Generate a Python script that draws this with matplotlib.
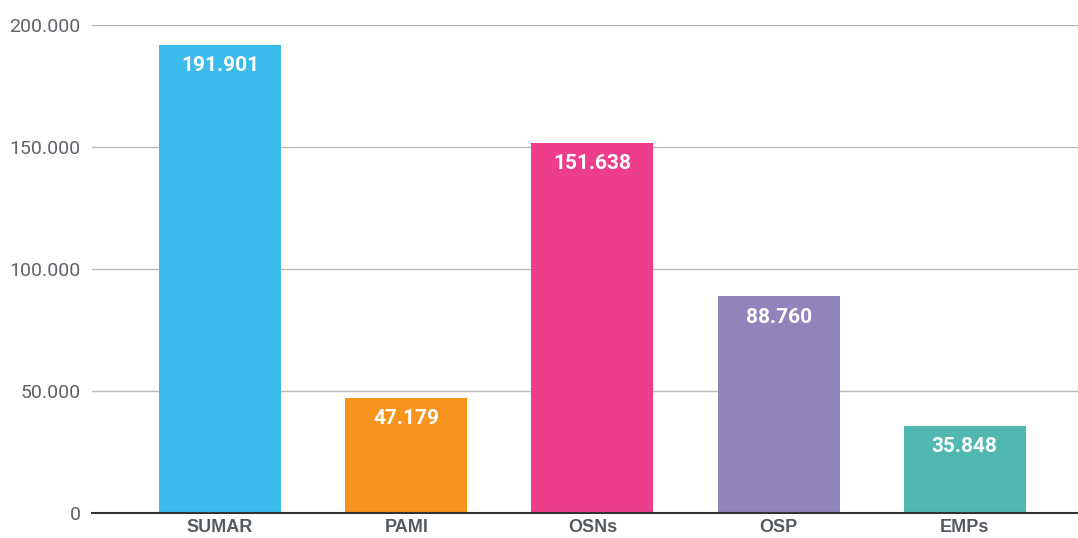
import matplotlib
matplotlib.use("Agg")
import matplotlib.pyplot as plt
from matplotlib.ticker import FuncFormatter

categories = ["SUMAR", "PAMI", "OSNs", "OSP", "EMPs"]
values = [191901, 47179, 151638, 88760, 35848]
colors = ["#3bbbec", "#f7941d", "#ee3d8b", "#9184bd", "#50b8b0"]


def dots(v):
    return f"{int(v):,}".replace(",", ".")


fig = plt.figure(figsize=(10.78, 5.38), dpi=100)
ax = fig.add_axes([0.0853, 0.0465, 0.9147, 0.907])

x = range(len(categories))
bars = ax.bar(x, values, width=0.656, color=colors, zorder=3)

for b, v in zip(bars, values):
    ax.annotate(dots(v), (b.get_x() + b.get_width() / 2, v),
                xytext=(0, -8), textcoords="offset points",
                ha="center", va="top", color="white",
                fontsize=15, fontweight="bold", family="Roboto", zorder=4)

ax.set_ylim(0, 200000)
ax.set_xlim(-0.688, 4.608)
ax.set_yticks([0, 50000, 100000, 150000, 200000])
ax.yaxis.set_major_formatter(FuncFormatter(lambda v, p: dots(v)))
ax.set_xticks(list(x))
ax.set_xticklabels(categories, fontsize=13, fontweight="bold",
                   family="Liberation Sans", color="#555a61")
for lab in ax.get_yticklabels():
    lab.set_family("Roboto")
    lab.set_fontsize(14)
    lab.set_color("#5f6368")

ax.grid(axis="y", color="#bbbbbb", linewidth=1, zorder=0)
ax.tick_params(axis="both", length=0)
ax.tick_params(axis="y", pad=8)
ax.tick_params(axis="x", pad=4)
for s in ["top", "right", "left"]:
    ax.spines[s].set_visible(False)
ax.spines["bottom"].set_color("#333333")
ax.spines["bottom"].set_linewidth(1.5)
ax.spines["bottom"].set_zorder(5)

fig.savefig("out.png", dpi=100)
